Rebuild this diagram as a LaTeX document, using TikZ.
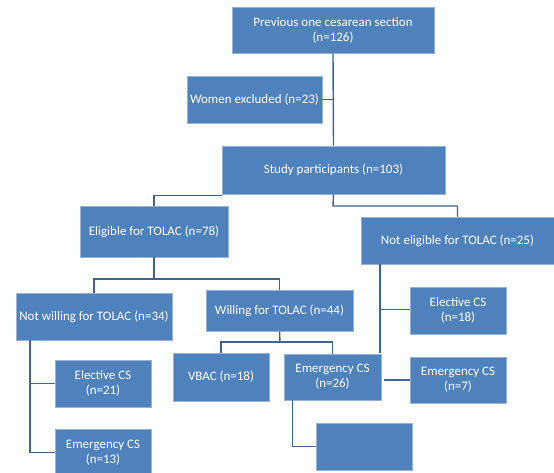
\documentclass[tikz,border=0pt]{standalone}
\usepackage{fontspec}
\setmainfont{Carlito}
\definecolor{boxblue}{RGB}{79,129,189}
\definecolor{boxedge}{RGB}{150,180,215}
\definecolor{conn}{RGB}{62,100,150}
\newcommand{\bx}[6]{\node[boxnode, minimum width={(#4-#2)*1pt}, minimum height={(#5-#3)*1pt}] (#1) at ({(#2+#4)/2},{(#3+#5)/2}) {#6};}
\begin{document}
\begin{tikzpicture}[x=1pt,y=-1pt,
  boxnode/.style={draw=boxedge, line width=0.7pt, fill=boxblue, text=white, inner sep=1pt, align=center,
    font=\fontsize{13}{15}\selectfont},
  link/.style={draw=conn, line width=1.4pt}]
\useasboundingbox (0,0) rectangle (554,472);
\clip (0,0) rectangle (554,472);
\bx{p}{232}{7}{434}{53}{Previous one  cesarean section\\(n=126)}
\bx{ex}{187}{76}{322}{123}{Women excluded (n=23)}
\bx{s}{222}{146}{445}{194}{Study participants (n=103)}
\bx{el}{80}{206}{228}{257}{Eligible for TOLAC (n=78)}
\bx{ne}{361}{217}{554}{264}{Not eligible for TOLAC (n=25)}
\bx{nw}{16}{293}{172}{340}{Not willing for  TOLAC (n=34)}
\bx{w}{206}{290}{353}{331}{Willing for TOLAC (n=44)}
\bx{ec18}{410}{287}{506}{334}{Elective CS\\(n=18)}
\bx{ec21}{55}{360}{151}{407}{Elective CS\\(n=21)}
\bx{em13}{55}{429}{151}{476}{Emergency CS\\(n=13)}
\bx{vb}{173}{353}{269}{401}{VBAC (n=18)}
\bx{em26}{284}{354}{381}{400}{Emergency CS\\(n=26)}
\bx{em7}{410}{357}{506}{403}{Emergency CS\\(n=7)}
\bx{bl}{316}{423}{412}{470}{}
% connectors
\draw[link] (p.south) -- (s.north);
\draw[link] (ex.east) -- (ex.east -| p.south);
\draw[link] ([yshift=-1pt]s.south west) -| (el.north);
\coordinate (j1) at (333,206);
\draw[link] (s.south) -- (j1) -| (ne.north);
\coordinate (e1) at (154,279);
\draw[link] (el.south) -- (e1);
\draw[link] (nw.north) |- (e1) -| (w.north);
\coordinate (t1) at (30,340);
\draw[link] (t1) |- (ec21.west);
\draw[link] (t1) |- (em13.west);
\coordinate (w1) at (280,342);
\draw[link] (w.south) -- (w1);
\draw[link] (vb.north) |- (w1) -| (em26.north);
\coordinate (t2) at (380,353);
\draw[link] (ne.south -| t2) -- (t2);
\draw[link] ([yshift=1pt]ec18.west -| t2) -- ([yshift=1pt]ec18.west);
\draw[link] ([xshift=3pt]em7.west -| em26.east) -- (em7.west);
\draw[link] ([xshift=9pt]em26.south west) |- (bl.west);
\end{tikzpicture}
\end{document}
